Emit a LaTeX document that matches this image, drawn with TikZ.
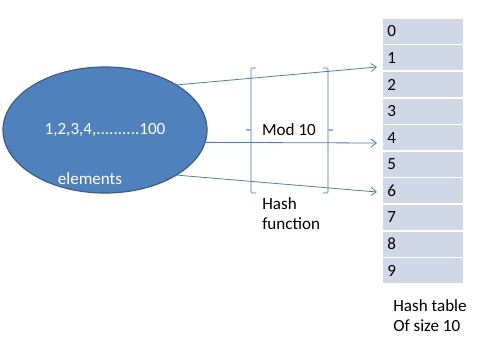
\documentclass[tikz,border=0pt]{standalone}
\usepackage{fontspec}
\setmainfont{Carlito}
\usepackage{tikz}
\usetikzlibrary{arrows.meta, shapes.geometric}

\definecolor{elemfill}{HTML}{4F81BD}
\definecolor{elemborde}{HTML}{385D8A}
\definecolor{flecha}{HTML}{4A7EBB}
\definecolor{llave}{HTML}{95B3D7}
\definecolor{celda}{HTML}{D0D8E8}

\begin{document}
\begin{tikzpicture}[x=0.75pt, y=-0.75pt,
        every node/.style={font=\fontsize{12.8}{15}\selectfont},
        conj/.style={ellipse, draw=elemborde, line width=0.9pt, fill=elemfill,
            minimum width=153pt, minimum height=94.5pt, inner sep=0pt},
        celdatabla/.style={draw=white, line width=1.2pt, fill=celda,
            minimum width=61.5pt, minimum height=19.95pt, inner xsep=4pt,
            text width=53.5pt, align=left},
        flechahash/.style={draw=flecha, line width=0.6pt, -{Straight Barb[length=4pt, width=6pt]}},
        corchete/.style={draw=llave, line width=1.1pt, rounded corners=1pt}]
        \useasboundingbox (0,0) rectangle (477,343);

        % Conjunto de elementos
        \node[conj] (elem) at (105,130) {};
        \node[text=white] (valores) at (105,130) {1,2,3,4,..........100};
        \node[text=white] (nombre) at (90,179) {elements};

        % Tabla hash
        \foreach \i in {0,...,9}
            \node[celdatabla] (c\i) at (423,{31.3+26.6*\i}) {\i};
        \node[anchor=north west, align=left, inner sep=0pt] (tabla) at (393,299)
            {Hash table\\Of size 10};

        % Funcion hash
        \draw[corchete] (256,68) -- (251,68) -- (251,193) -- (256,193);
        \draw[corchete] (251,130) -- (246,130);
        \draw[corchete] (323,68) -- (328,68) -- (328,193) -- (323,193);
        \draw[corchete] (328,130) -- (333,130);
        \node (mod) at (289,130) {Mod 10};
        \node[anchor=north west, align=left, inner sep=0pt] (funcion) at (262,197)
            {Hash\\function};

        % Flechas
        \coordinate (p1) at (377,67);
        \coordinate (p4) at (377,143);
        \coordinate (p6) at (377,192);
        \draw[flechahash] (elem.32) -- (p1);
        \draw[flechahash] (elem.-7) -- (p4);
        \draw[flechahash] (elem.-32) -- (p6);
    \end{tikzpicture}
\end{document}
